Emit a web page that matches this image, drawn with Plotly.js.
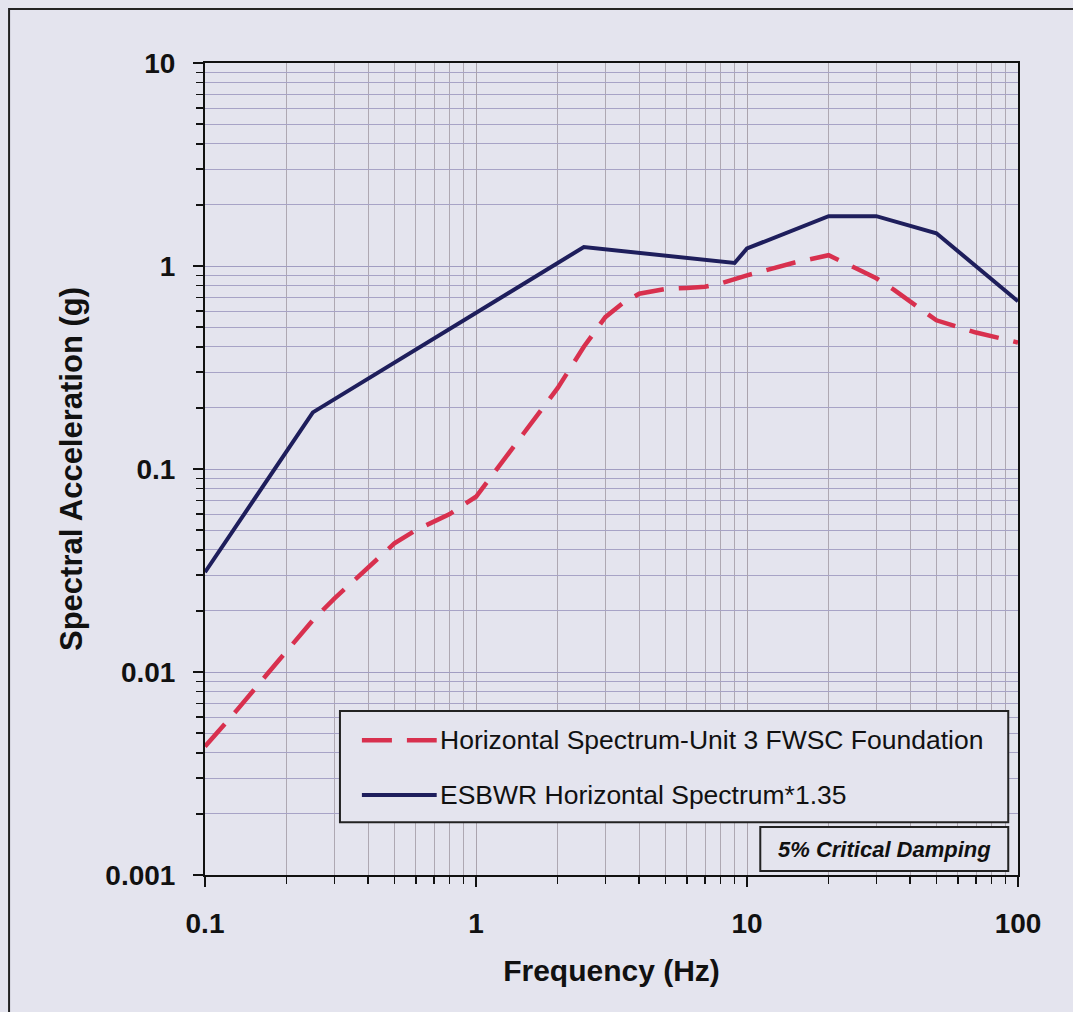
<!DOCTYPE html>
<html>
<head>
<meta charset="utf-8">
<script src="https://cdn.plot.ly/plotly-3.0.1.min.js"></script>
<style>html,body{margin:0;padding:0;background:#e4e4ee;}</style>
</head>
<body>
<div id="chart" style="width:1073px;height:1012px;"></div>
<script>
// ---- data ----
const unit3Freq = [0.1, 0.13, 0.17, 0.25, 0.3, 0.4, 0.5, 0.6, 0.8, 1.0, 1.2, 1.5, 2.0, 2.5, 3.0, 3.5, 4.0, 5.0, 6.0, 7.0, 8.0, 9.0, 10, 15, 20, 25, 30, 35, 50, 70, 100];
const unit3SA   = [0.0043, 0.0064, 0.0098, 0.018, 0.023, 0.033, 0.043, 0.05, 0.06, 0.073, 0.1, 0.15, 0.25, 0.4, 0.56, 0.66, 0.73, 0.77, 0.78, 0.79, 0.82, 0.86, 0.9, 1.04, 1.13, 0.98, 0.87, 0.76, 0.54, 0.47, 0.42];
const esbwrFreq = [0.1, 0.25, 2.5, 9.0, 10, 20, 30, 50, 100];
const esbwrSA   = [0.031, 0.19, 1.24, 1.035, 1.22, 1.76, 1.76, 1.45, 0.67];
const seriesNames = ["Horizontal Spectrum-Unit 3 FWSC Foundation", "ESBWR Horizontal Spectrum*1.35"];
const yTickVals = [0.001, 0.01, 0.1, 1, 10];
const yTickText = ["0.001", "0.01", "0.1", "1", "10"];
const xTickVals = [0.1, 1, 10, 100];
const xTickText = ["0.1", "1", "10", "100"];
const noteText = "5% Critical Damping";

// ---- styling ----
const RED = "#d8304e", BLUE = "#1e1e5c", BG = "#e4e4ee";
function minorVals(lo, hi) {
  const v = [];
  for (let e = lo; e < hi; e++) for (let m = 2; m <= 9; m++) v.push(m * Math.pow(10, e));
  return v;
}

const traces = [
  {x: unit3Freq, y: unit3SA, mode: "lines", name: seriesNames[0],
   line: {color: RED, width: 4.5, dash: "30px,15px"}, hoverinfo: "x+y"},
  {x: esbwrFreq, y: esbwrSA, mode: "lines", name: seriesNames[1],
   line: {color: BLUE, width: 4}, hoverinfo: "x+y"}
];

const fontBase = "Liberation Sans, Arial, sans-serif";
const layout = {
  width: 1073, height: 1012,
  paper_bgcolor: BG, plot_bgcolor: BG,
  margin: {l: 205, r: 55, t: 63, b: 137},
  showlegend: false,
  font: {family: fontBase, color: "#111"},
  xaxis: {
    type: "log", range: [-1, 2],
    tickmode: "array", tickvals: xTickVals, ticktext: xTickText,
    tickfont: {size: 28, family: fontBase, weight: "bold", color: "#111"},
    ticks: "outside", ticklen: 10, tickwidth: 1.5, tickcolor: "#111",
    ticklabelstandoff: 12,
    showline: true, linecolor: "#111", linewidth: 2, mirror: true,
    showgrid: true, gridcolor: "#aaa3ad", gridwidth: 1,
    minor: {tickmode: "array", tickvals: minorVals(-1, 2), ticks: "outside", ticklen: 7,
            tickcolor: "#111", showgrid: true, gridcolor: "#aea8b2", gridwidth: 1},
    zeroline: false,
    title: {text: "Frequency (Hz)", font: {size: 30, family: fontBase, weight: "bold", color: "#111"}, standoff: 22}
  },
  yaxis: {
    type: "log", range: [-3, 1],
    tickmode: "array", tickvals: yTickVals, ticktext: yTickText,
    tickfont: {size: 28, family: fontBase, weight: "bold", color: "#111"},
    ticks: "outside", ticklen: 10, tickwidth: 1.5, tickcolor: "#111",
    ticklabelstandoff: 12,
    showline: true, linecolor: "#111", linewidth: 2, mirror: true,
    showgrid: true, gridcolor: "#a19dc2", gridwidth: 1,
    minor: {tickmode: "array", tickvals: minorVals(-3, 1), ticks: "outside", ticklen: 7,
            tickcolor: "#111", showgrid: true, gridcolor: "#a7a3c6", gridwidth: 1},
    zeroline: false,
    title: {text: "Spectral Acceleration (g)", font: {size: 31, family: fontBase, weight: "bold", color: "#111"}, standoff: 13}
  },
  shapes: [
    // outer frame
    {type: "rect", xref: "paper", yref: "paper", x0: -0.241, x1: 1.2, y0: -0.3, y1: 1.0665,
     line: {color: "#222", width: 2}, layer: "below"},
    // legend box
    {type: "rect", xref: "paper", yref: "paper", x0: 0.166, x1: 0.988, y0: 0.065, y1: 0.202,
     line: {color: "#222", width: 2}, fillcolor: BG},
    // legend samples
    {type: "line", xref: "paper", yref: "paper", x0: 0.193, x1: 0.285, y0: 0.166, y1: 0.166,
     line: {color: RED, width: 4.5, dash: "30px,15px"}},
    {type: "line", xref: "paper", yref: "paper", x0: 0.193, x1: 0.285, y0: 0.0985, y1: 0.0985,
     line: {color: BLUE, width: 4}},
    // damping note box
    {type: "rect", xref: "paper", yref: "paper", x0: 0.683, x1: 0.988, y0: 0.005, y1: 0.059,
     line: {color: "#222", width: 2}, fillcolor: BG}
  ],
  annotations: [
    {xref: "paper", yref: "paper", x: 0.287, y: 0.166, xanchor: "left", yanchor: "middle",
     text: seriesNames[0], showarrow: false, font: {size: 26.5, family: fontBase, color: "#111"}},
    {xref: "paper", yref: "paper", x: 0.287, y: 0.0985, xanchor: "left", yanchor: "middle",
     text: seriesNames[1], showarrow: false, font: {size: 26.5, family: fontBase, color: "#111"}},
    {xref: "paper", yref: "paper", x: 0.8355, y: 0.032, xanchor: "center", yanchor: "middle",
     text: "<b><i>" + noteText + "</i></b>", showarrow: false, font: {size: 22, family: fontBase, color: "#111"}}
  ]
};

Plotly.newPlot("chart", traces, layout, {displayModeBar: false, staticPlot: true});
</script>
</body>
</html>
